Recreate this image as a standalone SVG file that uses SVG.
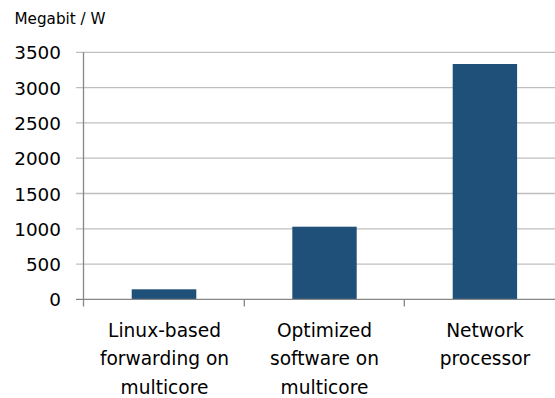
<svg xmlns="http://www.w3.org/2000/svg" width="555" height="398" viewBox="0 0 555 398">
<style>
.t{font-family:"DejaVu Sans","Open Sans","Liberation Sans",sans-serif;fill:#000}
.yl{font-size:18.4px;text-anchor:end}
.cl{font-size:18.6px;text-anchor:middle}
.grid{stroke:#bfbfbf;stroke-width:1.3}
.axis{stroke:#868686;stroke-width:1.3}
.bar{fill:#1f5079}
</style>
<rect width="555" height="398" fill="#fff"/>
<text class="t" x="14.5" y="24" font-size="15.2">Megabit / W</text>
<g id="grid">
<line class="grid" x1="76" y1="52.3" x2="555" y2="52.3"/>
<line class="grid" x1="76" y1="87.6" x2="555" y2="87.6"/>
<line class="grid" x1="76" y1="122.9" x2="555" y2="122.9"/>
<line class="grid" x1="76" y1="158.2" x2="555" y2="158.2"/>
<line class="grid" x1="76" y1="193.5" x2="555" y2="193.5"/>
<line class="grid" x1="76" y1="228.8" x2="555" y2="228.8"/>
<line class="grid" x1="76" y1="264.1" x2="555" y2="264.1"/>
</g>
<g id="y-labels">
<text class="t yl" x="61" y="59.3">3500</text>
<text class="t yl" x="61" y="94.6">3000</text>
<text class="t yl" x="61" y="129.9">2500</text>
<text class="t yl" x="61" y="165.2">2000</text>
<text class="t yl" x="61" y="200.5">1500</text>
<text class="t yl" x="61" y="235.8">1000</text>
<text class="t yl" x="61" y="271.1">500</text>
<text class="t yl" x="61" y="306.4">0</text>
</g>
<g id="bar1"><rect class="bar" x="131.7" y="289.3" width="64.6" height="10"/></g>
<g id="bar2"><rect class="bar" x="292.3" y="226.7" width="64.4" height="72.6"/></g>
<g id="bar3"><rect class="bar" x="452.7" y="64" width="64.4" height="235.3"/></g>
<g id="axes">
<line class="axis" x1="83.5" y1="52.3" x2="83.5" y2="306.5"/>
<line class="axis" x1="76" y1="299.4" x2="555" y2="299.4"/>
<line class="axis" x1="244.3" y1="299.4" x2="244.3" y2="306.5"/>
<line class="axis" x1="404.3" y1="299.4" x2="404.3" y2="306.5"/>
</g>
<g id="x-labels">
<text class="t cl" x="164.5" y="336.5">Linux-based</text>
<text class="t cl" x="164.5" y="365">forwarding on</text>
<text class="t cl" x="164.5" y="393.5">multicore</text>
<text class="t cl" x="324.5" y="336.5">Optimized</text>
<text class="t cl" x="324.5" y="365">software on</text>
<text class="t cl" x="324.5" y="393.5">multicore</text>
<text class="t cl" x="485" y="336.5">Network</text>
<text class="t cl" x="485" y="365">processor</text>
</g>
</svg>
